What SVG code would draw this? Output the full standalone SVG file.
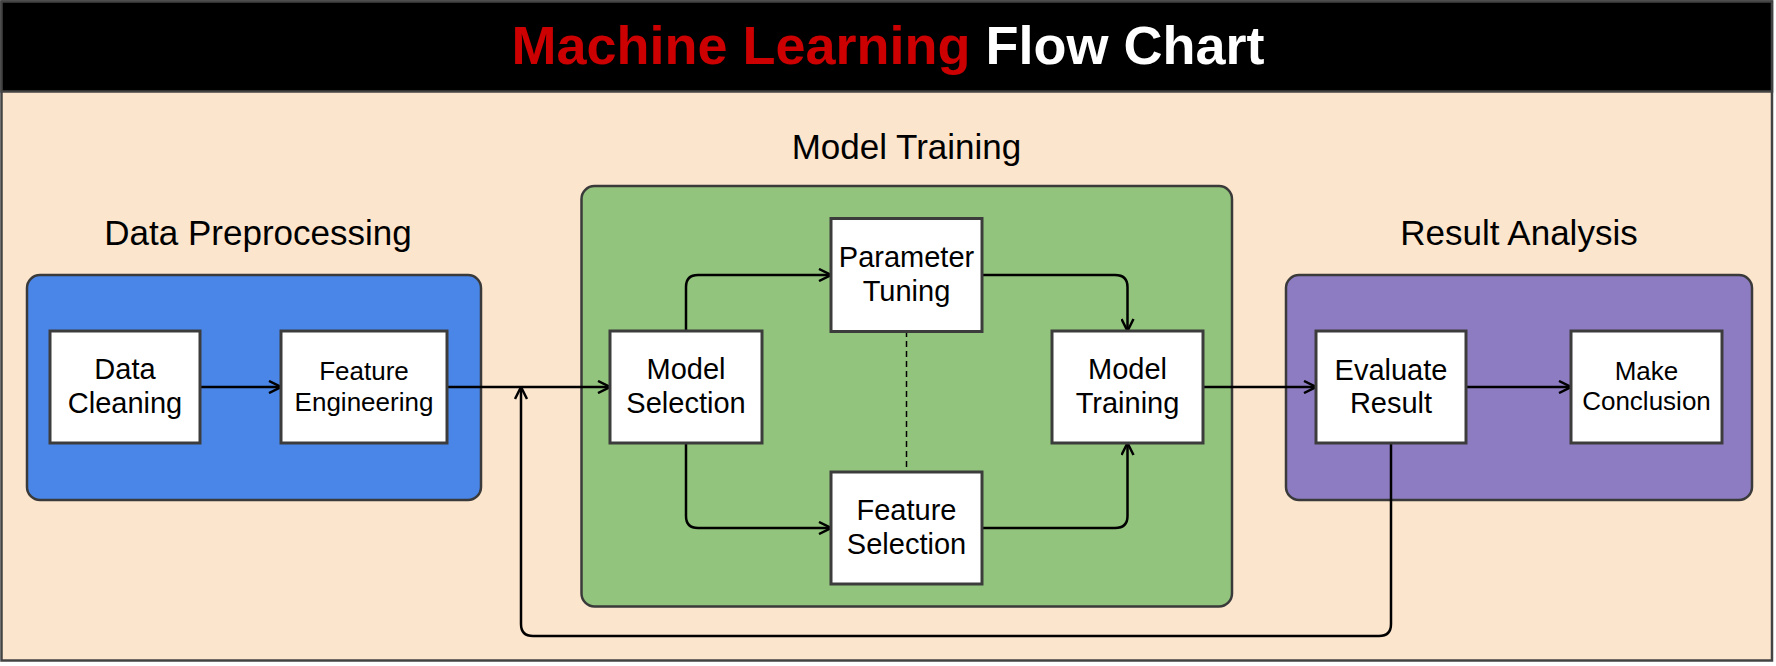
<svg xmlns="http://www.w3.org/2000/svg" width="1776" height="666" viewBox="0 0 1776 666">
<style>
text{font-family:"Liberation Sans",Arial,sans-serif;fill:#000;text-anchor:middle}
.grp{stroke:#3a3a3a;stroke-width:2.5}
.box{fill:#fff;stroke:#3c3c3c;stroke-width:3}
.lbl{font-size:29px}
.sm{font-size:26px}
.gl{font-size:35px}
.con{fill:none;stroke:#000;stroke-width:2.5}
</style>
<defs>
<marker id="arr" viewBox="0 0 14 14" refX="13" refY="7" markerWidth="14" markerHeight="14" markerUnits="userSpaceOnUse" orient="auto">
<path d="M1,1 L13,7 L1,13" fill="none" stroke="#000" stroke-width="2.5"/>
</marker>
</defs>
<rect width="1776" height="666" fill="#fff"/>
<g id="frame">
<rect x="1.5" y="1.5" width="1770.5" height="659" fill="#fce5cd" stroke="#434343" stroke-width="2.5"/>
<rect x="1.5" y="1.5" width="1770.5" height="90" fill="#000" stroke="#434343" stroke-width="2.5"/>
<text x="888" y="64" style="font-size:54px;font-weight:bold"><tspan fill="#cc0000">Machine Learning </tspan><tspan fill="#fff">Flow Chart</tspan></text>
</g>
<g id="data-preprocessing">
<rect class="grp" x="27" y="275" width="454" height="225" rx="13" fill="#4a86e8"/>
<text class="gl" x="258" y="245">Data Preprocessing</text>
</g>
<g id="model-training-group">
<rect class="grp" x="581.5" y="186" width="650.5" height="420.5" rx="13" fill="#93c47d"/>
<text class="gl" x="906.5" y="159">Model Training</text>
</g>
<g id="result-analysis">
<rect class="grp" x="1286" y="275" width="466" height="225" rx="13" fill="#8e7cc3"/>
<text class="gl" x="1519" y="245">Result Analysis</text>
</g>
<g id="connectors">
<line class="con" x1="200" y1="387" x2="281" y2="387" marker-end="url(#arr)"/>
<line class="con" x1="447" y1="387" x2="610" y2="387" marker-end="url(#arr)"/>
<path class="con" d="M686,331 V287 Q686,275 698,275 H831" marker-end="url(#arr)"/>
<path class="con" d="M686,443 V516 Q686,528 698,528 H831" marker-end="url(#arr)"/>
<path class="con" d="M982,275 H1115 Q1127.5,275 1127.5,287 V331" marker-end="url(#arr)"/>
<path class="con" d="M982,528 H1115 Q1127.5,528 1127.5,516 V443" marker-end="url(#arr)"/>
<line x1="906.5" y1="331" x2="906.5" y2="472" stroke="#000" stroke-width="1.5" stroke-dasharray="6,4"/>
<line class="con" x1="1203" y1="387" x2="1316" y2="387" marker-end="url(#arr)"/>
<line class="con" x1="1466" y1="387" x2="1571" y2="387" marker-end="url(#arr)"/>
<path class="con" d="M1391,443 V624 Q1391,636 1379,636 H533 Q521,636 521,624 V387" marker-end="url(#arr)"/>
</g>
<g id="data-cleaning">
<rect class="box" x="50" y="331" width="150" height="112"/>
<text class="lbl" x="125" y="379">Data</text>
<text class="lbl" x="125" y="413">Cleaning</text>
</g>
<g id="feature-engineering">
<rect class="box" x="281" y="331" width="166" height="112"/>
<text class="sm" x="364" y="380">Feature</text>
<text class="sm" x="364" y="411">Engineering</text>
</g>
<g id="model-selection">
<rect class="box" x="610" y="331" width="152" height="112"/>
<text class="lbl" x="686" y="379">Model</text>
<text class="lbl" x="686" y="413">Selection</text>
</g>
<g id="parameter-tuning">
<rect class="box" x="831" y="218.5" width="151" height="113"/>
<text class="lbl" x="906.5" y="267">Parameter</text>
<text class="lbl" x="906.5" y="301">Tuning</text>
</g>
<g id="feature-selection">
<rect class="box" x="831" y="472" width="151" height="112"/>
<text class="lbl" x="906.5" y="520">Feature</text>
<text class="lbl" x="906.5" y="554">Selection</text>
</g>
<g id="model-training">
<rect class="box" x="1052" y="331" width="151" height="112"/>
<text class="lbl" x="1127.5" y="379">Model</text>
<text class="lbl" x="1127.5" y="413">Training</text>
</g>
<g id="evaluate-result">
<rect class="box" x="1316" y="331" width="150" height="112"/>
<text class="lbl" x="1391" y="380">Evaluate</text>
<text class="lbl" x="1391" y="413">Result</text>
</g>
<g id="make-conclusion">
<rect class="box" x="1571" y="331" width="151" height="112"/>
<text class="sm" x="1646.5" y="380">Make</text>
<text class="sm" x="1646.5" y="410">Conclusion</text>
</g>
</svg>
